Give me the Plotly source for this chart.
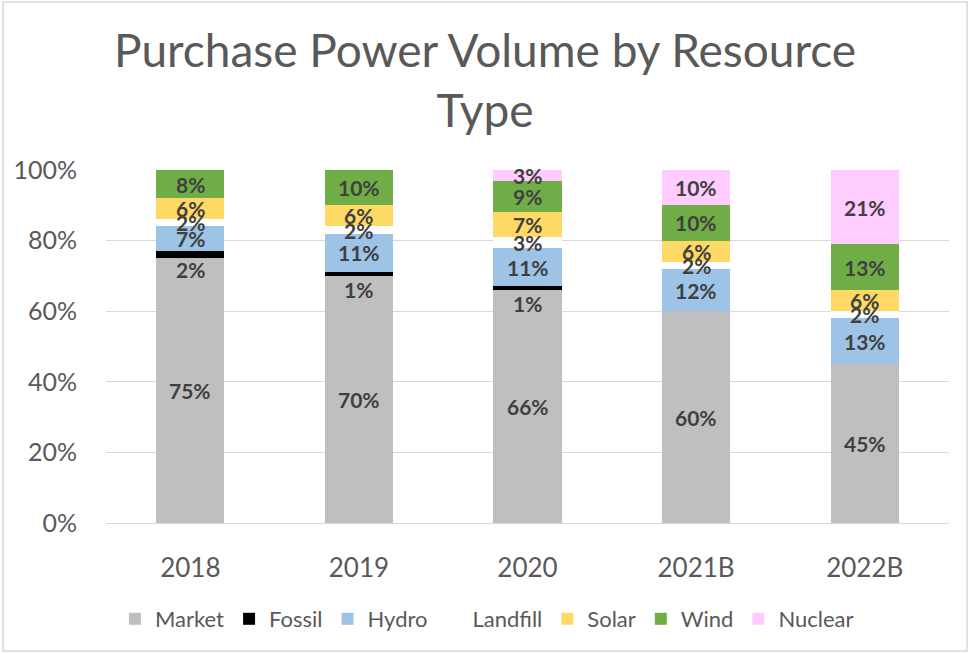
import plotly.graph_objects as go

categories = ["2018", "2019", "2020", "2021B", "2022B"]
market = [75, 70, 66, 60, 45]
fossil = [2, 1, 1, 0, 0]
hydro = [7, 11, 11, 12, 13]
landfill = [2, 2, 3, 2, 2]
solar = [6, 6, 7, 6, 6]
wind = [8, 10, 9, 10, 13]
nuclear = [0, 0, 3, 10, 21]
y_ticks = [0, 20, 40, 60, 80, 100]
y_tick_labels = [f"{v}%" for v in y_ticks]

series = [
    ("Market", market, "#BFBFBF"),
    ("Fossil", fossil, "#000000"),
    ("Hydro", hydro, "#9DC3E6"),
    ("Landfill", landfill, "#FFFFFF"),
    ("Solar", solar, "#FFD966"),
    ("Wind", wind, "#70AD47"),
    ("Nuclear", nuclear, "#FFCCFF"),
]

FONT = "Lato, 'Open Sans', sans-serif"
xpos = list(range(len(categories)))
fig = go.Figure()
annotations = []
base = [0] * len(categories)
for name, vals, color in series:
    fig.add_trace(go.Bar(
        name=name, x=xpos, y=vals, marker=dict(color=color, line=dict(width=0)),
        hoverinfo="skip",
    ))
    for i, v in enumerate(vals):
        if v > 0:
            annotations.append(dict(
                x=xpos[i], y=base[i] + v / 2, xref="x", yref="y",
                text=f"{v}%", showarrow=False,
                yshift=-15 if name == "Fossil" else 0,
                font=dict(family=FONT, size=21, color="#404040", weight="bold"),
            ))
        base[i] += v

annotations.append(dict(
    text="Purchase Power Volume by Resource<br>Type",
    xref="paper", yref="paper",
    x=(485 - 106) / 843, xanchor="center",
    y=1 + (170 - 20) / 353, yanchor="top",
    showarrow=False,
    font=dict(family=FONT, size=46, color="#595959"),
))

fig.update_layout(
    barmode="stack",
    bargap=0.596,
    width=970, height=654,
    margin=dict(l=106, r=21, t=170, b=131, autoexpand=False),
    paper_bgcolor="white", plot_bgcolor="white",
    font=dict(family=FONT, color="#595959"),
    legend=dict(
        orientation="h", xref="container", yref="container",
        x=0.502, xanchor="center", y=1 - 619 / 654, yanchor="middle",
        font=dict(family=FONT, size=22, color="#595959"),
        traceorder="normal",
    ),
    annotations=annotations,
    shapes=[dict(
        type="rect", xref="paper", yref="paper",
        x0=(3 - 106) / 843, x1=(967 - 106) / 843,
        y0=-(651 - 523) / 353, y1=1 + (170 - 2) / 353,
        line=dict(color="#D9D9D9", width=1.5), layer="below",
    )],
)
fig.update_yaxes(
    range=[0, 100], tickmode="array", tickvals=y_ticks, ticktext=y_tick_labels,
    showgrid=True, gridcolor="#D9D9D9", gridwidth=1,
    zeroline=False, showline=False, automargin=False,
    tickfont=dict(family=FONT, size=25, color="#595959"),
    ticklabelstandoff=28,
)
fig.update_xaxes(
    tickmode="array", tickvals=xpos, ticktext=categories,
    range=[-0.5, len(categories) - 0.5],
    showgrid=False, zeroline=False, automargin=False,
    showline=True, linecolor="#D9D9D9", linewidth=1,
    tickfont=dict(family=FONT, size=26, color="#595959"),
    ticklabelstandoff=22,
)
fig.write_html(
    "out.html",
    config={"displayModeBar": False},
    post_script="document.body.style.margin='0';document.body.style.overflow='hidden';",
)
